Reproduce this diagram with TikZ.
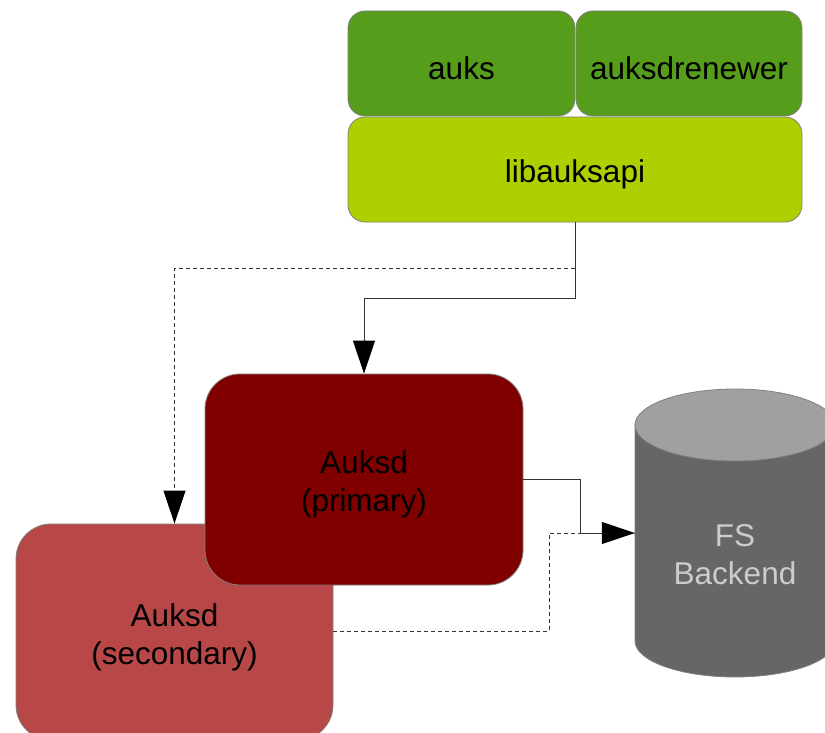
\documentclass[tikz,border=0pt]{standalone}
\usepackage{fontspec}
\setmainfont{Liberation Sans}
\usetikzlibrary{arrows.meta,calc}
\definecolor{auksgreen}{HTML}{579D1C}
\definecolor{libgreen}{HTML}{AECF00}
\definecolor{primred}{HTML}{800000}
\definecolor{secred}{HTML}{B84747}
\definecolor{cylbody}{HTML}{666666}
\definecolor{cyltop}{HTML}{A0A0A0}
\definecolor{cyltext}{HTML}{CCCCCC}
\definecolor{edgegray}{HTML}{808080}
\definecolor{linegray}{HTML}{333333}
\tikzset{
  box/.style={draw=edgegray, line width=0.8pt, rounded corners=17pt, inner sep=0pt},
  bigbox/.style={box, rounded corners=35pt},
  txt/.style={label={[font=\fontsize{31.5}{37.8}\selectfont, align=center, yshift=-5pt]center:#1}},
  conn/.style={line width=1pt, draw=linegray},
  dconn/.style={conn, dash pattern=on 4pt off 3pt},
  tip/.style={-{Triangle[length=33pt,width=22pt,black]}},
}
\begin{document}
\begin{tikzpicture}[x=1pt,y=-1pt]
\clip (0,0) rectangle (825,733);
% top stack
\node[box, fill=auksgreen, minimum width=227pt, minimum height=105pt, txt={auks}] (auks) at (461.5,63.5) {};
\node[box, fill=auksgreen, minimum width=226pt, minimum height=105pt, txt={auksdrenewer}] (renewer) at (689,63.5) {};
\node[box, fill=libgreen, minimum width=454pt, minimum height=105pt, txt={libauksapi}] (lib) at (575,169.5) {};
% daemons
\node[bigbox, fill=secred, minimum width=317pt, minimum height=216pt, txt={Auksd\\(secondary)}] (secondary) at (174.5,632) {};
\node[bigbox, fill=primred, minimum width=318pt, minimum height=211pt, txt={Auksd\\(primary)}] (primary) at (364,479.5) {};
% cylinder
\fill[cylbody, draw=edgegray, line width=0.8pt] (635,425) -- (635,641)
  arc[start angle=180, end angle=0, x radius=100, y radius=36] -- (835,425) -- cycle;
\fill[cyltop, draw=edgegray, line width=0.8pt] (735,425) ellipse[x radius=100, y radius=36];
\node[inner sep=0pt, minimum width=200pt, minimum height=288pt] (backend) at (735,533) {};
\node[text=cyltext, align=center, font=\fontsize{31.5}{37.8}\selectfont] (fslabel) at (735,555) {FS\\Backend};
% connectors
\coordinate (split) at ($(lib.south)+(0,46)$);
\coordinate (bend) at ($(lib.south)+(0,76)$);
\draw[dconn, tip] (split) -| (secondary.north);
\draw[conn, tip] (lib.south) -- (bend) -| (primary.north);
\draw[dconn] (secondary.east |- 0,631) -- (549,631) |- (backend.west);
\draw[conn, tip] (primary.east) -- ++(57,0) |- (backend.west);
\end{tikzpicture}
\end{document}
